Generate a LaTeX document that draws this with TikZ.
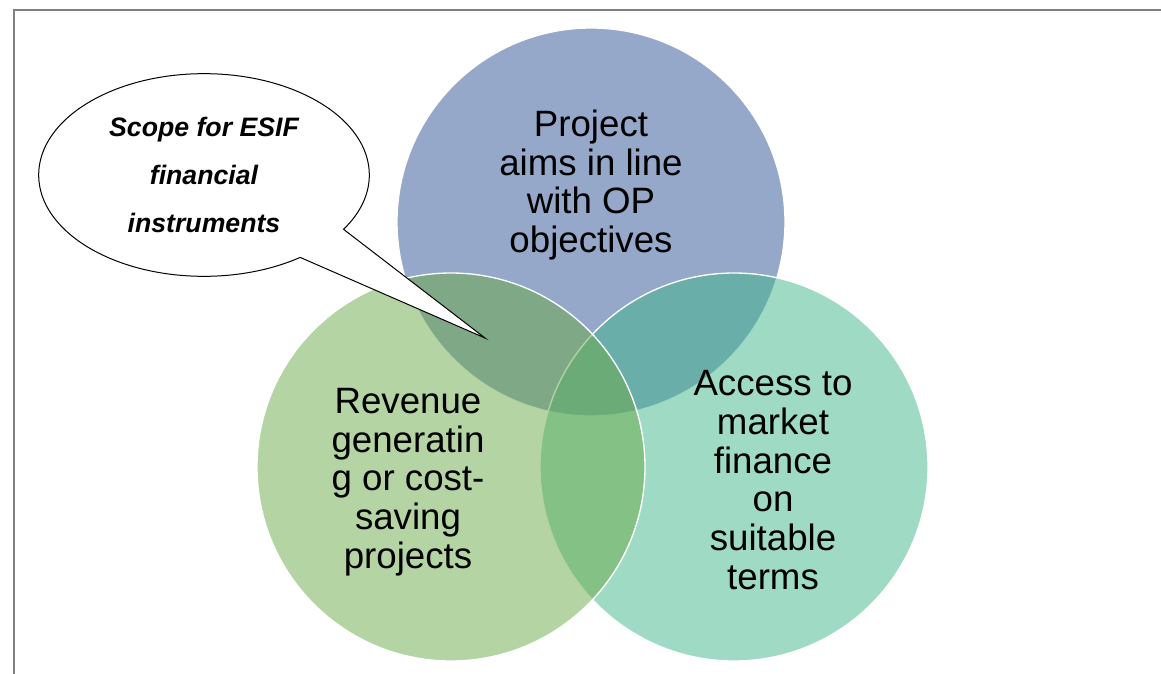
\documentclass[tikz,border=0pt]{standalone}
\usepackage{fontspec}
\setmainfont{Liberation Sans}
\usepackage{tikz}
\usetikzlibrary{shapes,shapes.callouts,positioning}
\usepackage{xcolor}
\definecolor{vennblue}{RGB}{43,81,147}
\definecolor{vennteal}{RGB}{63,181,137}
\definecolor{venngreen}{RGB}{107,169,71}
\definecolor{framegray}{RGB}{128,128,128}
\tikzstyle{venn} = [circle, minimum size=291pt, inner sep=0pt, draw=white, line width=1pt, fill opacity=0.5]
\tikzstyle{venntext} = [align=center, text=black, font=\fontsize{27.5}{29}\selectfont]
\tikzstyle{bubble} = [ellipse callout, draw=black, fill=white, line width=0.75pt, minimum width=248pt, minimum height=152pt, inner sep=0pt, align=center, callout pointer arc=22, font=\fontsize{20}{36}\selectfont\bfseries\itshape]

\begin{document}
\begin{tikzpicture}[x=0.75pt, y=-0.75pt]
\useasboundingbox (0,0) rectangle (1161,674);

% Frame
\draw[framegray, line width=1.5pt] (14,674) -- (14,10) -- (1161,10);

% Venn circles (blue first, then teal, green on top)
\node (aims) [venn, fill=vennblue] at (591,222) {};
\node (market) [venn, fill=vennteal] at (734,467) {};
\node (revenue) [venn, fill=venngreen] at (451,467) {};

% Circle texts
\node (aimstext) [venntext] at (591,185) {Project\\aims in line\\with OP\\objectives};
\node (revenuetext) [venntext] at (408,482) {Revenue\\generatin\\g or cost-\\saving\\projects};
\node (markettext) [venntext] at (773,480) {Access to\\market\\finance\\on\\suitable\\terms};

% Callout pointing at the overlap
\coordinate (overlap) at (485,338);
\node (scope) [bubble, callout absolute pointer={(overlap)}] at (204,175) {Scope for ESIF\\financial\\instruments};
\end{tikzpicture}
\end{document}
